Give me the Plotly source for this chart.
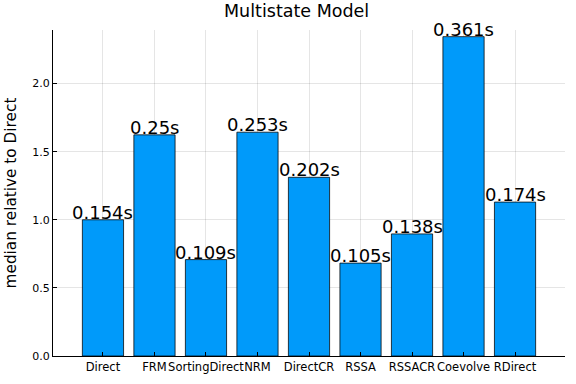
import plotly.graph_objects as go

methods = ["Direct", "FRM", "SortingDirect", "NRM", "DirectCR", "RSSA", "RSSACR", "Coevolve", "RDirect"]
median_times = [0.154, 0.25, 0.109, 0.253, 0.202, 0.105, 0.138, 0.361, 0.174]
labels = ["0.154s", "0.25s", "0.109s", "0.253s", "0.202s", "0.105s", "0.138s", "0.361s", "0.174s"]
title_text = "Multistate Model"

base = median_times[0]
relative = [t / base for t in median_times]
xs = list(range(1, len(methods) + 1))

W, H = 576, 384
ML, MR, MT, MB = 53, 11, 30, 28
PW = W - ML - MR

fig = go.Figure()
fig.add_trace(go.Bar(
    x=xs, y=relative, width=0.8,
    marker=dict(color="#009AFA", line=dict(color="rgba(0,0,0,0.75)", width=1)),
    showlegend=False, hoverinfo="skip",
))

for x, y, t in zip(xs, relative, labels):
    fig.add_annotation(x=x, y=y, text=t, showarrow=False, xanchor="center", yanchor="bottom",
                       yshift=-5, font=dict(size=18, color="black", family="DejaVu Sans"))

# title as a paper annotation
fig.add_annotation(xref="paper", yref="paper", x=(296 - ML) / PW, y=1, yshift=19,
                   text=title_text, showarrow=False, xanchor="center", yanchor="middle",
                   font=dict(size=17.5, color="black", family="DejaVu Sans"))

fig.update_layout(
    width=W, height=H,
    margin=dict(l=ML, r=MR, t=MT, b=MB, autoexpand=False),
    paper_bgcolor="white", plot_bgcolor="white",
    font=dict(family="DejaVu Sans", color="black"),
    bargap=0.2,
)
fig.update_xaxes(
    range=[0.03, 9.97], tickvals=xs, ticktext=methods, tickfont=dict(size=11.5), tickangle=0,
    showgrid=True, gridcolor="rgba(0,0,0,0.1)", gridwidth=0.5,
    showline=True, linecolor="black", linewidth=1,
    ticks="inside", ticklen=4, tickcolor="black", zeroline=False, automargin=False,
)
fig.update_yaxes(
    range=[0, 2.393], tickvals=[0, 0.5, 1.0, 1.5, 2.0], ticktext=["0.0", "0.5", "1.0", "1.5", "2.0"],
    tickfont=dict(size=11),
    title=dict(text="median relative to Direct", font=dict(size=15.3), standoff=11),
    showgrid=True, gridcolor="rgba(0,0,0,0.1)", gridwidth=0.5,
    showline=True, linecolor="black", linewidth=1,
    ticks="inside", ticklen=4, tickcolor="black", zeroline=False, automargin=False,
)

fig.write_html("out.html", config={"displayModeBar": False},
               post_script="document.body.style.margin='0';")
